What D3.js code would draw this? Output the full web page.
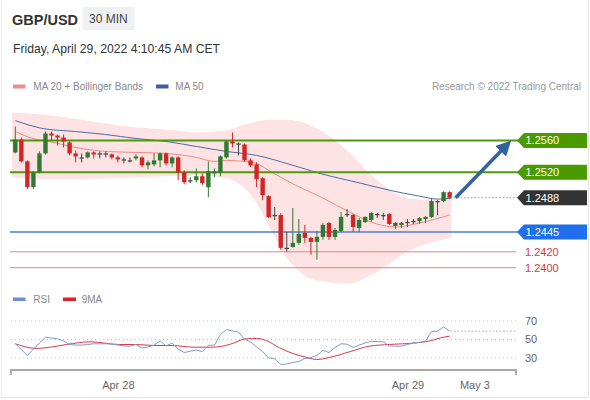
<!DOCTYPE html>
<html><head><meta charset="utf-8">
<script src="https://cdn.jsdelivr.net/npm/d3@7"></script>
<style>
html,body{margin:0;padding:0;background:#fff;}
svg{display:block;font-family:"Liberation Sans",Arial,Helvetica,sans-serif;}
</style></head><body>
<svg id="c" width="590" height="400"></svg>
<script>
// ---------- data ----------
const openP  = [1.2545,1.256125,1.253375,1.250125,1.252,1.254375,1.256875,1.256625,1.256375,1.25575,
 1.254375,1.253875,1.253875,1.2545,1.254375,1.254375,1.25425,1.253875,1.253625,1.2535,
 1.25375,1.253875,1.252875,1.253,1.2535,1.254375,1.253125,1.253875,1.252,1.251,
 1.251,1.2515,1.250125,1.251875,1.252,1.253875,1.255875,1.255625,1.2555,1.2535,
 1.253,1.25125,1.249,1.246625,1.246625,1.2425,1.242625,1.243125,1.244375,1.24375,
 1.24325,1.243875,1.245625,1.243875,1.244625,1.24675,1.246625,1.245,1.24575,1.246,
 1.24675,1.246625,1.24675,1.24525,1.245375,1.24575,1.245875,1.245875,1.246125,1.246375,
 1.248375,1.248375,1.2495];
const highP  = [1.25775,1.256375,1.2535,1.252125,1.254625,1.257125,1.257125,1.25675,1.25675,1.255875,
 1.25475,1.254375,1.254625,1.254625,1.254625,1.254625,1.254375,1.254125,1.253875,1.253875,
 1.25425,1.254,1.2535,1.254375,1.2545,1.2545,1.254,1.254,1.25225,1.251375,
 1.2525,1.251875,1.253375,1.2525,1.254125,1.256,1.257,1.25575,1.255625,1.25375,
 1.25325,1.251375,1.249125,1.247625,1.246875,1.2445,1.2475,1.246125,1.245375,1.243875,
 1.244625,1.245625,1.24575,1.245,1.247,1.247375,1.24675,1.24625,1.2465,1.247,
 1.246875,1.246875,1.246875,1.24575,1.24575,1.246125,1.246125,1.246375,1.2465,1.24875,
 1.2485,1.249625,1.249625];
const lowP   = [1.254375,1.25325,1.249875,1.249875,1.251875,1.25425,1.256,1.255375,1.255125,1.254125,
 1.25325,1.25325,1.25375,1.25375,1.25375,1.253875,1.253625,1.25325,1.253125,1.25325,
 1.2535,1.252625,1.252375,1.25275,1.252625,1.252875,1.252625,1.251,1.2505,1.250625,
 1.25075,1.250375,1.248875,1.251375,1.2515,1.25375,1.255125,1.254125,1.253375,1.252625,
 1.250125,1.2485,1.24625,1.246,1.24225,1.242,1.2425,1.242875,1.243125,1.241625,
 1.241,1.2435,1.2435,1.2435,1.2445,1.246375,1.2445,1.2445,1.245625,1.24575,
 1.24625,1.246,1.245375,1.244875,1.245,1.245125,1.2455,1.2455,1.245625,1.24625,
 1.246625,1.24825,1.248625];
const closeP = [1.256125,1.253375,1.250125,1.252,1.254375,1.256875,1.256625,1.256375,1.255875,1.254375,
 1.254,1.253875,1.2545,1.25425,1.254375,1.254375,1.253875,1.253625,1.253625,1.2535,
 1.254,1.252875,1.25325,1.2535,1.254375,1.253125,1.253875,1.252,1.25075,1.251,
 1.2515,1.250625,1.252125,1.252125,1.254,1.255875,1.255625,1.255625,1.2535,1.252875,
 1.251125,1.249125,1.246375,1.246625,1.2425,1.2425,1.243125,1.24425,1.24375,1.24325,
 1.243875,1.245375,1.243875,1.24475,1.246375,1.24675,1.245125,1.246,1.246375,1.246875,
 1.24675,1.246625,1.2455,1.245625,1.245625,1.24575,1.245875,1.24625,1.246375,1.248375,
 1.248375,1.2495,1.2488];

const bandIdx = [-0.55,4.9,10,15,20,25,30,35,38,40,42.2,45,47.1,50,55,60,65,70,72.3];
const bbUpper = [1.2595,1.25925,1.25875,1.258125,1.257625,1.257375,1.257,1.25725,1.258,1.258375,1.258625,1.258625,1.258375,1.2575,1.25475,1.251,1.24875,1.2485,1.249375];
const bbLower = [1.251375,1.251125,1.251125,1.25125,1.251375,1.2515,1.251625,1.25125,1.25,1.248125,1.245,1.24125,1.2395,1.238375,1.238,1.2395,1.242,1.243375,1.24375];

const ma20Idx = [0,2.9,5.7,10,15,20,25,30,33,35,37.7,40,41.7,45.5,51,55.4,59.9,63.2,67,72];
const ma20 = [1.257125,1.25625,1.255875,1.255125,1.254625,1.2545,1.254375,1.253875,1.253375,1.2535,1.253375,1.253125,1.252375,1.25075,1.24875,1.247,1.2455,1.245125,1.245625,1.246625];

const ma50Idx = [0,4.6,10,15,20,25,30,35,40,45.5,51,56.6,62,67,70,72.3];
const ma50 = [1.2585,1.2575,1.257125,1.25675,1.25625,1.255875,1.25525,1.254625,1.254125,1.253,1.25175,1.25075,1.24975,1.249,1.248625,1.24875];

const rsi = [45.4,39,32.7,39.5,46.3,52.5,51.6,50.8,48.4,44.6,
 44,43.9,44.6,45.4,45.4,45.4,45.1,44,43,42.8,
 44.6,40.8,41.9,44,48.4,43,46.2,39.7,35.9,37.3,
 38.6,37,43.8,43.8,55.4,60.8,59.2,57.9,50.3,47.3,
 41.9,37,30,29.5,23,23.5,25.1,26.2,29.5,30.5,
 32.7,38.4,35.9,41.4,45.4,44.9,41.4,44,46.2,48.2,
 47.8,47.5,43,42.8,42.8,44.6,46.2,46.8,48.2,58.6,
 59,63.7,59];
const rsiMaIdx = [0,3.5,6,8.5,12.4,17.3,20,23,26,29.5,32.8,35.5,38.3,40,41.6,43.8,46,48,50,52,55.4,58.7,62,66.5,69,70.5,72];
const rsiMa = [45.4,40.3,41.9,44.6,47.5,44.6,44.6,43.5,43.5,41.7,41.7,44.6,50.8,51.1,48.9,41,34.9,31.1,28.4,30.5,36.7,42.8,44.6,46.4,48.9,51.8,53.6];

const levelValues = [1.2560,1.2520,1.2488,1.2445,1.2420,1.2400];
const levelLabels = ["1.2560","1.2520","1.2488","1.2445","1.2420","1.2400"];
const levelKinds  = ["res","res","last","sup","weak","weak"];
const rsiTicks = [70,50,30];
const dateTickIdx = [17,65,76.1];
const dateTickLabels = ["Apr 28","Apr 29","May 3"];
const targetPrice = 1.2560;
const targetIdx = 82.2;

// ---------- setup ----------
const svg = d3.select("#c");
const x = d3.scaleLinear().domain([-0.88, 83]).range([10, 516]);
const y = d3.scaleLinear().domain([1.2400, 1.2560]).range([267.7, 140.5]);
const yr = d3.scaleLinear().domain([30, 70]).range([358, 321]);

const GREEN = "#2f7a30", RED = "#d42424", DOJI = "#444";

// card border
svg.append("line").attr("x1",588.5).attr("x2",588.5).attr("y1",0).attr("y2",397).attr("stroke","#e4e4e4");
svg.append("line").attr("x1",1).attr("x2",588.5).attr("y1",397.5).attr("y2",397.5).attr("stroke","#e4e4e4");
svg.append("line").attr("x1",1.5).attr("x2",1.5).attr("y1",0).attr("y2",397).attr("stroke","#efefef");

// header
svg.append("text").attr("x",12).attr("y",25).attr("font-size",14.5).attr("font-weight","bold").attr("fill","#333").text("GBP/USD");
svg.append("rect").attr("x",82.5).attr("y",7).attr("width",52).attr("height",23).attr("fill","#f0f1f3");
svg.append("text").attr("x",89).attr("y",23).attr("font-size",12).attr("fill","#444").text("30 MIN");
svg.append("text").attr("x",13).attr("y",53).attr("font-size",12.2).attr("fill","#333").text("Friday, April 29, 2022 4:10:45 AM CET");

// legend
svg.append("rect").attr("x",13).attr("y",84.5).attr("width",12.5).attr("height",4).attr("fill","#ef8d8d");
svg.append("text").attr("x",33.3).attr("y",90).attr("font-size",10).attr("fill","#888").text("MA 20 + Bollinger Bands");
svg.append("rect").attr("x",156).attr("y",84.5).attr("width",12.5).attr("height",4).attr("fill","#3e5f9e");
svg.append("text").attr("x",175.3).attr("y",90).attr("font-size",10).attr("fill","#888").text("MA 50");
svg.append("text").attr("x",581).attr("y",90).attr("text-anchor","end").attr("font-size",10).attr("fill","#999").text("Research © 2022 Trading Central");

// ---------- price panel ----------
const band = bandIdx.map((d,i)=>({i:d,u:bbUpper[i],l:bbLower[i]}));
svg.append("path").datum(band)
  .attr("d", d3.area().x(d=>x(d.i)).y0(d=>y(d.l)).y1(d=>y(d.u)).curve(d3.curveMonotoneX))
  .attr("fill","#fde3e3");

svg.append("path").datum(ma20Idx.map((d,i)=>[d,ma20[i]]))
  .attr("d", d3.line().x(d=>x(d[0])).y(d=>y(d[1])).curve(d3.curveMonotoneX))
  .attr("fill","none").attr("stroke","#ef8a86").attr("stroke-width",1);
svg.append("path").datum(ma50Idx.map((d,i)=>[d,ma50[i]]))
  .attr("d", d3.line().x(d=>x(d[0])).y(d=>y(d[1])).curve(d3.curveMonotoneX))
  .attr("fill","none").attr("stroke","#4e6ca8").attr("stroke-width",1);

// level lines
const lvl = levelValues.map((v,i)=>({v, label:levelLabels[i], kind:levelKinds[i]}));
const lastIdx = closeP.length - 1;
lvl.forEach(d=>{
  const yy = y(d.v);
  if (d.kind === "res") {
    svg.append("line").attr("x1",10).attr("x2",518).attr("y1",yy).attr("y2",yy)
      .attr("stroke","#4f9a0c").attr("stroke-width",2);
  } else if (d.kind === "sup") {
    svg.append("line").attr("x1",10).attr("x2",518).attr("y1",yy).attr("y2",yy)
      .attr("stroke","#4a7fd0").attr("stroke-width",1.5);
  } else if (d.kind === "weak") {
    svg.append("line").attr("x1",10).attr("x2",516).attr("y1",yy).attr("y2",yy)
      .attr("stroke","#e98282").attr("stroke-width",1);
  } else {
    svg.append("line").attr("x1",x(lastIdx)+4).attr("x2",517).attr("y1",yy).attr("y2",yy)
      .attr("stroke","#999").attr("stroke-width",1).attr("stroke-dasharray","1.5,2");
  }
});

// candles
const candles = openP.map((o,i)=>({i,o,h:highP[i],l:lowP[i],c:closeP[i]}));
const col = d => d.c > d.o ? GREEN : (d.c < d.o ? RED : DOJI);
const cg = svg.append("g");
cg.selectAll("line.w").data(candles).join("line").attr("class","w")
  .attr("x1",d=>x(d.i)).attr("x2",d=>x(d.i))
  .attr("y1",d=>y(d.h)).attr("y2",d=>y(d.l))
  .attr("stroke",col).attr("stroke-width",1);
cg.selectAll("rect").data(candles).join("rect")
  .attr("x",d=>x(d.i)-2.2).attr("width",4.4)
  .attr("y",d=>Math.min(y(d.o),y(d.c)))
  .attr("height",d=>Math.max(1.2, Math.abs(y(d.o)-y(d.c))))
  .attr("fill",col);

// arrow
const defs = svg.append("defs");
defs.append("marker").attr("id","ah").attr("viewBox","0 0 10 10").attr("refX",4).attr("refY",5)
  .attr("markerWidth",15).attr("markerHeight",15).attr("markerUnits","userSpaceOnUse")
  .attr("orient","auto")
  .append("path").attr("d","M0,0 L10,5 L0,10 Z").attr("fill","#3262a0");
{
  const x0 = x(lastIdx+1), y0 = y(closeP[lastIdx]);
  const x1 = x(targetIdx), y1 = y(targetPrice);
  const dx = x1-x0, dy = y1-y0, len = Math.hypot(dx,dy);
  const back = 9;
  svg.append("line").attr("x1",x0).attr("y1",y0)
    .attr("x2",x1-dx/len*back).attr("y2",y1-dy/len*back)
    .attr("stroke","#3262a0").attr("stroke-width",3.5).attr("marker-end","url(#ah)");
}

// labels
lvl.forEach(d=>{
  const yy = y(d.v);
  if (d.kind === "weak") {
    svg.append("text").attr("x",525).attr("y",yy).attr("dy","0.36em")
      .attr("font-size",11).attr("fill","#d43a3a").text(d.label);
    return;
  }
  const fill = d.kind==="res" ? "#4a9a00" : d.kind==="sup" ? "#1f6fec" : "#333";
  svg.append("path").attr("d",`M517,${yy} L524,${yy-7.5} L587,${yy-7.5} L587,${yy+7.5} L524,${yy+7.5} Z`)
    .attr("fill",fill);
  svg.append("text").attr("x",525.5).attr("y",yy).attr("dy","0.36em")
    .attr("font-size",11).attr("fill","#fff").text(d.label);
});

// ---------- RSI panel ----------
svg.append("rect").attr("x",13).attr("y",297.5).attr("width",12.5).attr("height",3.5).attr("fill","#6b8fd4");
svg.append("text").attr("x",33.3).attr("y",303).attr("font-size",10).attr("fill","#888").text("RSI");
svg.append("rect").attr("x",63).attr("y",297.5).attr("width",13).attr("height",3.5).attr("fill","#e0202a");
svg.append("text").attr("x",81.7).attr("y",303).attr("font-size",10).attr("fill","#888").text("9MA");

rsiTicks.forEach(t=>{
  svg.append("line").attr("x1",11).attr("x2",516).attr("y1",yr(t)).attr("y2",yr(t))
    .attr("stroke","#c4c4c4").attr("stroke-width",1).attr("stroke-dasharray","1,3");
  svg.append("text").attr("x",525).attr("y",yr(t)).attr("dy","0.36em")
    .attr("font-size",11).attr("fill","#666").text(t);
});
// last RSI dotted
svg.append("line").attr("x1",x(lastIdx)+1).attr("x2",516).attr("y1",yr(rsi[lastIdx])).attr("y2",yr(rsi[lastIdx]))
  .attr("stroke","#aaa").attr("stroke-width",1).attr("stroke-dasharray","1.5,2");

svg.append("path").datum(rsiMaIdx.map((d,i)=>[d,rsiMa[i]]))
  .attr("d", d3.line().x(d=>x(d[0])).y(d=>yr(d[1])).curve(d3.curveMonotoneX))
  .attr("fill","none").attr("stroke","#d83a4a").attr("stroke-width",1);
svg.append("path").datum(rsi.map((v,i)=>[i,v]))
  .attr("d", d3.line().x(d=>x(d[0])).y(d=>yr(d[1])))
  .attr("fill","none").attr("stroke","#7c9bd4").attr("stroke-width",1);

// x axis
const ax = svg.append("g").attr("transform","translate(0,370)");
const axis = d3.axisBottom(x).tickValues(dateTickIdx).tickFormat((d,i)=>dateTickLabels[i]).tickSize(0).tickPadding(11);
ax.call(axis);
ax.select(".domain").remove();
ax.selectAll("text").attr("font-size",11).attr("fill","#666").attr("font-family","Liberation Sans, Arial, sans-serif");
ax.append("path").attr("d","M11,5 V0 H516 V5").attr("fill","none").attr("stroke","#a8a8a8").attr("stroke-width",1.8);
</script></body></html>
